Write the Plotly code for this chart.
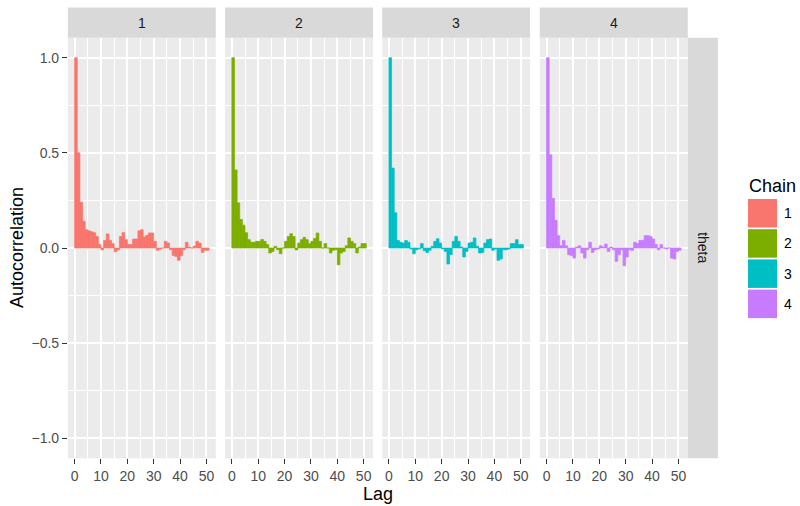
import plotly.graph_objects as go

# Autocorrelation by lag for each MCMC chain (parameter: theta)
lags = list(range(51))

chain_1 = [1.0, 0.50, 0.24, 0.14, 0.096, 0.09, 0.085, 0.08, 0.06, 0.018,
           -0.01, 0.04, 0.074, 0.04, 0.023, -0.02, -0.01, 0.06, 0.082, 0.044,
           0.018, 0.018, 0.047, 0.047, 0.09, 0.096, 0.058, 0.067, 0.079, 0.079,
           0.035, -0.012, -0.005, 0.0, 0.035, 0.026, -0.009, -0.04, -0.044, -0.065,
           -0.04, -0.009, 0.03, 0.005, 0.0, 0.01, 0.035, 0.026, -0.023, -0.012,
           -0.012]
chain_2 = [1.0, 0.41, 0.237, 0.15, 0.12, 0.08, 0.044, 0.03, 0.03, 0.035,
           0.035, 0.045, 0.035, 0.018, -0.026, -0.018, 0.009, -0.009, -0.03, 0.0,
           0.035, 0.06, 0.075, 0.06, -0.01, 0.026, 0.044, 0.056, 0.044, 0.023,
           0.035, 0.05, 0.079, 0.035, 0.0, 0.023, 0.0, -0.026, -0.012, -0.009,
           -0.088, -0.026, -0.018, 0.012, 0.053, 0.035, 0.023, -0.026, 0.005, 0.023,
           0.023]
chain_3 = [1.0, 0.42, 0.185, 0.039, 0.03, 0.026, 0.039, 0.03, -0.005, -0.03,
           -0.009, -0.004, 0.023, -0.014, -0.023, -0.012, 0.009, 0.035, 0.049, 0.026,
           -0.005, -0.018, -0.084, -0.035, 0.035, 0.061, 0.035, 0.005, -0.047, -0.018,
           0.026, 0.03, 0.053, 0.009, -0.026, -0.023, 0.026, 0.044, 0.047, -0.012,
           -0.005, -0.065, -0.058, -0.009, -0.009, -0.005, 0.023, 0.023, 0.044, 0.018,
           0.018]
chain_4 = [1.0, 0.49, 0.26, 0.146, 0.065, 0.012, 0.04, 0.012, -0.035, -0.04,
           -0.053, 0.005, 0.012, -0.026, -0.053, -0.009, 0.03, -0.023, -0.009, -0.005,
           0.012, 0.005, 0.021, -0.018, 0.005, -0.009, -0.07, -0.035, -0.009, -0.093,
           -0.047, -0.009, -0.012, 0.03, 0.023, 0.04, 0.04, 0.065, 0.065, 0.061,
           0.047, 0.018, -0.009, 0.018, 0.0, -0.005, 0.0, -0.053, -0.058, -0.018,
           -0.012]

chains = ["1", "2", "3", "4"]
series = [chain_1, chain_2, chain_3, chain_4]
colors = ["#F8766D", "#7CAE00", "#00BFC4", "#C77CFF"]
parameter = "theta"

x_ticks = [0, 10, 20, 30, 40, 50]
x_minor = [5, 15, 25, 35, 45]
y_ticks = [-1.0, -0.5, 0.0, 0.5, 1.0]
y_minor = [-0.75, -0.25, 0.25, 0.75]

W, H = 800, 506
FONT = "Liberation Sans, Arial, Helvetica, sans-serif"


def fx(p):
    return p / W


def fy(p):
    return 1 - p / H


panel_x = [(67.9, 215.8), (225.1, 373.0), (382.2, 530.1), (539.8, 687.8)]
panel_top, panel_bottom = 37.7, 458.3
strip_top = 7.5
strip_right = (687.8, 717.9)

fig = go.Figure()
layout = dict(
    width=W, height=H, autosize=False,
    margin=dict(l=0, r=0, t=0, b=0),
    paper_bgcolor="white", plot_bgcolor="#EBEBEB",
    font=dict(family=FONT, color="#1A1A1A"),
    showlegend=False,
)

shapes = []
annotations = []

for i, (name, vals, col) in enumerate(zip(chains, series, colors)):
    sfx = "" if i == 0 else str(i + 1)
    # outline in the fill colour closes the hairline seams between bars
    fig.add_trace(go.Bar(
        x=lags, y=vals, width=1, offset=0,
        marker=dict(color=col, line=dict(width=0.7, color=col)),
        xaxis="x" + sfx, yaxis="y" + sfx, name=name,
        hoverinfo="skip",
    ))
    l, r = panel_x[i]
    layout["xaxis" + sfx] = dict(
        domain=[fx(l), fx(r)], range=[-2.55, 53.55], anchor="y" + sfx,
        tickmode="array", tickvals=x_ticks, ticks="outside", ticklen=5,
        tickwidth=1.1, tickcolor="#333333",
        tickfont=dict(size=14, color="#4D4D4D", family=FONT),
        showgrid=True, gridcolor="white", gridwidth=2,
        minor=dict(tickvals=x_minor, showgrid=True, gridcolor="white",
                   gridwidth=1, ticks=""),
        zeroline=False, showline=False, automargin=False, fixedrange=True,
    )
    layout["yaxis" + sfx] = dict(
        domain=[fy(panel_bottom), fy(panel_top)], range=[-1.105, 1.105],
        anchor="x" + sfx, tickmode="array", tickvals=y_ticks, tickformat=".1f",
        ticks="outside" if i == 0 else "", ticklen=5, tickwidth=1.1,
        tickcolor="#333333", showticklabels=(i == 0),
        tickfont=dict(size=14, color="#4D4D4D", family=FONT),
        showgrid=True, gridcolor="white", gridwidth=2,
        minor=dict(tickvals=y_minor, showgrid=True, gridcolor="white",
                   gridwidth=1, ticks=""),
        zeroline=False, showline=False, automargin=False, fixedrange=True,
    )
    # facet strip on top of each panel
    shapes.append(dict(type="rect", xref="paper", yref="paper",
                       x0=fx(l), x1=fx(r), y0=fy(panel_top), y1=fy(strip_top),
                       fillcolor="#D9D9D9", line=dict(width=0), layer="below"))
    annotations.append(dict(text=name, xref="paper", yref="paper",
                            x=fx((l + r) / 2), y=fy((strip_top + panel_top) / 2),
                            showarrow=False, xanchor="center", yanchor="middle",
                            font=dict(size=14, color="#1A1A1A", family=FONT)))

# row strip on the right
shapes.append(dict(type="rect", xref="paper", yref="paper",
                   x0=fx(strip_right[0]), x1=fx(strip_right[1]),
                   y0=fy(panel_bottom), y1=fy(panel_top),
                   fillcolor="#D9D9D9", line=dict(width=0), layer="below"))
annotations.append(dict(text=parameter, xref="paper", yref="paper",
                        x=fx(sum(strip_right) / 2),
                        y=fy((panel_top + panel_bottom) / 2),
                        textangle=90, showarrow=False,
                        xanchor="center", yanchor="middle",
                        font=dict(size=14, color="#1A1A1A", family=FONT)))

# axis titles
annotations.append(dict(text="Autocorrelation", xref="paper", yref="paper",
                        x=fx(17), y=fy((panel_top + panel_bottom) / 2),
                        textangle=-90, showarrow=False,
                        xanchor="center", yanchor="middle",
                        font=dict(size=18, color="black", family=FONT)))
annotations.append(dict(text="Lag", xref="paper", yref="paper",
                        x=fx((panel_x[0][0] + panel_x[3][1]) / 2), y=fy(494),
                        showarrow=False, xanchor="center", yanchor="middle",
                        font=dict(size=18, color="black", family=FONT)))

# legend: Chain
leg_x0, leg_x1 = 748.0, 777.0
key_top, key_h, key_step = 199.0, 28.5, 30.2
annotations.append(dict(text="Chain", xref="paper", yref="paper",
                        x=fx(leg_x0 - 1), y=fy(185.5), showarrow=False,
                        xanchor="left", yanchor="middle",
                        font=dict(size=18, color="black", family=FONT)))
for k, (name, col) in enumerate(zip(chains, colors)):
    t = key_top + k * key_step
    shapes.append(dict(type="rect", xref="paper", yref="paper",
                       x0=fx(leg_x0), x1=fx(leg_x1), y0=fy(t + key_h), y1=fy(t),
                       fillcolor=col, line=dict(width=0)))
    annotations.append(dict(text=name, xref="paper", yref="paper",
                            x=fx(782), y=fy(t + key_h / 2), showarrow=False,
                            xanchor="left", yanchor="middle",
                            font=dict(size=14, color="black", family=FONT)))

layout["shapes"] = shapes
layout["annotations"] = annotations
fig.update_layout(**layout)

fig.write_html("out.html", config={"displayModeBar": False})
